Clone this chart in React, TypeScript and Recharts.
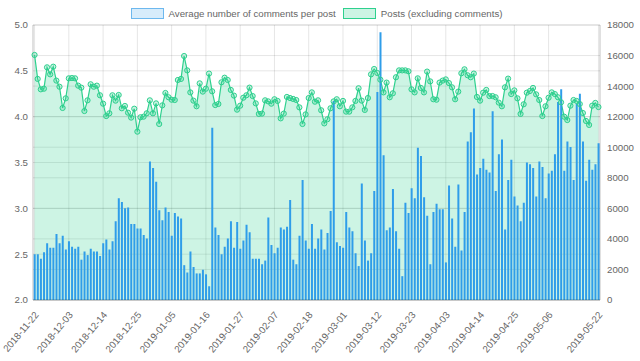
import React from 'react';
import { ComposedChart, Bar, Area, XAxis, YAxis, CartesianGrid } from 'recharts';

const startDate = '2018-11-22';
const dayCount = 182;

const avgComments = [
  2.50, 2.50, 2.45, 2.52, 2.62, 2.57, 2.57, 2.72, 2.62, 2.70,
  2.55, 2.64, 2.58, 2.56, 2.58, 2.44, 2.53, 2.49, 2.56, 2.53,
  2.53, 2.48, 2.62, 2.66, 2.55, 2.64, 2.86, 3.11, 3.07, 3.00,
  3.01, 2.83, 2.83, 2.78, 2.78, 2.71, 2.67, 3.51, 3.44, 3.29,
  2.98, 2.87, 3.01, 2.96, 2.70, 2.95, 2.91, 2.89, 2.38, 2.30,
  2.53, 2.36, 2.29, 2.29, 2.33, 2.28, 2.15, 3.88, 2.79, 2.71,
  2.50, 2.58, 2.67, 2.86, 2.57, 2.85, 2.56, 2.65, 2.82, 2.74,
  2.45, 2.45, 2.45, 2.39, 2.43, 2.90, 2.60, 2.51, 2.57, 2.79,
  2.77, 2.80, 3.09, 2.44, 2.39, 2.70, 3.31, 2.65, 2.56, 2.83,
  2.56, 2.67, 2.77, 2.55, 2.73, 2.97, 4.17, 2.63, 2.59, 2.57,
  2.96, 2.79, 2.75, 2.51, 2.37, 3.27, 2.65, 2.43, 2.51, 3.19,
  4.27, 4.92, 3.58, 2.76, 2.79, 3.21, 2.75, 2.56, 2.26, 3.06,
  2.95, 3.22, 3.11, 3.66, 3.57, 3.12, 2.92, 2.39, 2.96, 3.05,
  2.99, 2.99, 2.41, 3.25, 2.89, 2.58, 3.26, 2.54, 2.96, 3.73,
  3.83, 4.09, 3.37, 3.44, 3.54, 3.42, 3.39, 4.06, 3.19, 3.59,
  3.75, 2.77, 3.31, 3.53, 3.13, 3.03, 2.86, 3.06, 3.50, 3.48,
  3.44, 3.13, 3.51, 3.45, 3.11, 3.38, 3.41, 3.59, 4.16, 4.30,
  3.41, 3.73, 3.67, 3.31, 4.14, 4.25, 3.73, 3.30, 3.53, 3.42,
  3.48, 3.71,
];

const posts = [
  16040, 14470, 13790, 13830, 15230, 14770, 15270, 14360, 13960, 12570,
  13200, 14510, 14530, 14510, 14030, 13900, 12370, 13070, 14120, 13960,
  14030, 13400, 12850, 12040, 12220, 13400, 13050, 13420, 12550, 12700,
  12260, 11940, 12520, 11020, 11960, 12000, 12220, 13070, 12220, 12870,
  11520, 12740, 13550, 13270, 13110, 13090, 14400, 14470, 15970, 15030,
  13590, 13050, 12680, 14180, 13640, 13830, 14820, 13660, 12760, 12830,
  14250, 14550, 14400, 13750, 13380, 12460, 12720, 13240, 13400, 13900,
  13350, 12870, 12180, 12200, 13070, 13000, 12850, 13140, 13030, 11890,
  12200, 13290, 13220, 13160, 13090, 12610, 11520, 12150, 13220, 13590,
  12980, 13070, 12420, 11560, 11830, 12550, 13000, 13140, 12680, 13030,
  12330, 12330, 12610, 13030, 13860, 13050, 12440, 13220, 14770, 15120,
  14860, 14420, 13590, 14230, 13270, 13530, 14580, 15030, 15030, 15030,
  14970, 13790, 13590, 14510, 13880, 13590, 14950, 14310, 13140, 13110,
  14230, 14360, 14440, 14200, 13920, 13140, 13640, 14840, 15100, 14710,
  14580, 14820, 13290, 13050, 13570, 13750, 13350, 13350, 13270, 12920,
  12680, 13920, 14490, 13480, 13720, 13200, 12180, 12810, 13570, 13680,
  13880, 13460, 13090, 12040, 12680, 13240, 13590, 13480, 13270, 12940,
  12000, 11780, 12720, 13090, 13030, 12830, 12240, 11720, 11460, 12720,
  12900, 12630,
];

const tickLabels = [
  '2018-11-22', '2018-12-03', '2018-12-14', '2018-12-25', '2019-01-05',
  '2019-01-16', '2019-01-27', '2019-02-07', '2019-02-18', '2019-03-01',
  '2019-03-12', '2019-03-23', '2019-04-03', '2019-04-14', '2019-04-25',
  '2019-05-06', '2019-05-22',
];

const leftTicks = [2.0, 2.5, 3.0, 3.5, 4.0, 4.5, 5.0];
const rightTicks = [0, 2000, 4000, 6000, 8000, 10000, 12000, 14000, 16000, 18000];

const seriesNames = ['Average number of comments per post', 'Posts (excluding comments)'];

function makeDates(start: string, n: number): string[] {
  const out: string[] = [];
  const base = new Date(start + 'T00:00:00Z').getTime();
  for (let i = 0; i < n; i++) {
    out.push(new Date(base + i * 86400000).toISOString().slice(0, 10));
  }
  return out;
}

const dates = makeDates(startDate, dayCount);
const data = dates.map((d, i) => ({ date: d, avg: avgComments[i], posts: posts[i] }));

const FONT = '"Liberation Sans", Arial, Helvetica, sans-serif';
const FS = 9.7;
const TXT = '#666';
const GREEN = '#2ed08e';
const MINT = 'rgba(46,208,142,0.24)';
const GRID = 'rgba(0,0,0,0.1)';

const XTick = (props: any) => {
  const { x, y, payload } = props;
  const tx = x + 2;
  const ty = y + 5;
  return (
    <text
      x={tx}
      y={ty}
      transform={`rotate(-50 ${tx} ${ty})`}
      textAnchor="end"
      dy="0.35em"
      fontSize={FS}
      fontFamily={FONT}
      fill={TXT}
    >
      {payload.value}
    </text>
  );
};

const LegendBox = ({ fill, stroke, label }: { fill: string; stroke: string; label: string }) => (
  <div style={{ display: 'flex', alignItems: 'center', marginRight: 7 }}>
    <div
      style={{
        width: 33,
        height: 11,
        boxSizing: 'border-box',
        background: fill,
        border: `1.5px solid ${stroke}`,
        marginRight: 5,
      }}
    />
    <span style={{ fontSize: FS, fontFamily: FONT, color: TXT, lineHeight: '11px' }}>{label}</span>
  </div>
);

export default function App() {
  return (
    <div style={{ position: 'absolute', left: 0, top: 0, width: 640, height: 361, background: '#fff' }}>
      <div
        style={{
          position: 'absolute',
          left: 0,
          top: 8,
          width: 640,
          display: 'flex',
          justifyContent: 'center',
          zIndex: 2,
        }}
      >
        <LegendBox fill="rgba(54,162,235,0.2)" stroke="#6db8ee" label={seriesNames[0]} />
        <LegendBox fill="rgba(46,208,142,0.24)" stroke={GREEN} label={seriesNames[1]} />
      </div>
      <ComposedChart
        width={640}
        height={361}
        data={data}
        margin={{ top: 25, right: 0, bottom: 0, left: 0 }}
        barCategoryGap="22%"
      >
        <CartesianGrid yAxisId="left" stroke={GRID} vertical={true} horizontal={true} />
        <CartesianGrid yAxisId="right" stroke={GRID} vertical={false} horizontal={true} />
        <XAxis
          dataKey="date"
          ticks={tickLabels}
          interval={0}
          tick={<XTick />}
          tickLine={false}
          axisLine={{ stroke: 'rgba(0,0,0,0.25)' }}
          height={61}
        />
        <YAxis
          yAxisId="left"
          orientation="left"
          domain={[2, 5]}
          ticks={leftTicks}
          tickFormatter={(v: number) => v.toFixed(1)}
          width={33}
          tickLine={false}
          tickSize={3}
          tickMargin={2}
          axisLine={{ stroke: 'rgba(0,0,0,0.15)' }}
          tick={{ fontSize: FS, fontFamily: FONT, fill: TXT }}
          allowDataOverflow
        />
        <YAxis
          yAxisId="right"
          orientation="right"
          domain={[0, 18000]}
          ticks={rightTicks}
          width={40}
          tickLine={false}
          tickSize={5}
          tickMargin={2}
          axisLine={{ stroke: 'rgba(0,0,0,0.15)' }}
          tick={{ fontSize: FS, fontFamily: FONT, fill: TXT }}
          allowDataOverflow
        />
        <Area
          yAxisId="right"
          dataKey="posts"
          name={seriesNames[1]}
          type="linear"
          stroke={GREEN}
          strokeWidth={1.2}
          fill={MINT}
          fillOpacity={1}
          dot={{ r: 2.6, stroke: GREEN, strokeWidth: 1, fill: 'rgba(46,208,142,0.25)' }}
          isAnimationActive={false}
        />
        <Bar
          yAxisId="left"
          dataKey="avg"
          name={seriesNames[0]}
          fill="#2f9de9"
          isAnimationActive={false}
        />
      </ComposedChart>
    </div>
  );
}
